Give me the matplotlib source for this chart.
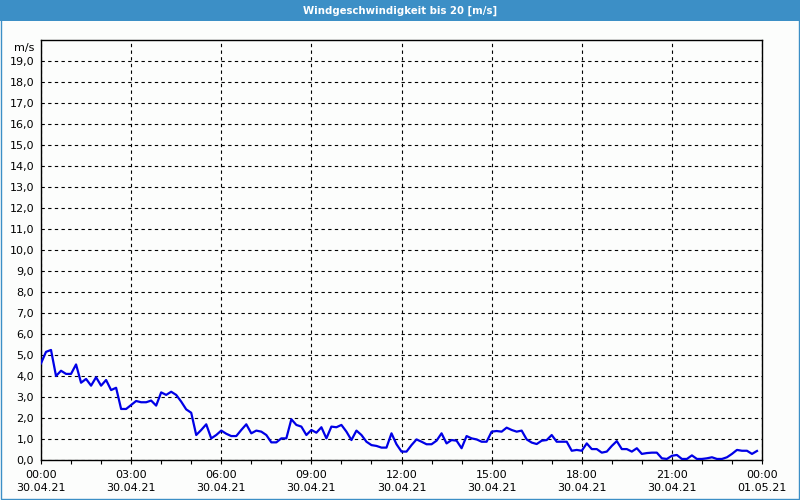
import matplotlib
matplotlib.use("Agg")
import matplotlib.pyplot as plt
import matplotlib.dates as mdates
from matplotlib.patches import Rectangle
from matplotlib.ticker import MultipleLocator, FuncFormatter
import pandas as pd

title = "Windgeschwindigkeit bis 20 [m/s]"
unit = "m/s"
start = "2021-04-30 00:00"
end = "2021-05-01 00:00"

# wind speed in m/s, one value every 10 minutes
speed = [
    4.60, 5.15, 5.24, 4.00, 4.25, 4.10, 4.10, 4.55, 3.68, 3.86, 3.54, 3.94,
    3.54, 3.81, 3.33, 3.44, 2.43, 2.43, 2.62, 2.81, 2.75, 2.75, 2.83, 2.59,
    3.22, 3.10, 3.25, 3.10, 2.78, 2.41, 2.25, 1.19, 1.43, 1.70, 1.03, 1.19,
    1.40, 1.25, 1.14, 1.14, 1.43, 1.70, 1.27, 1.40, 1.35, 1.19, 0.84, 0.84,
    1.03, 1.03, 1.94, 1.67, 1.59, 1.19, 1.43, 1.30, 1.56, 1.03, 1.59, 1.56,
    1.67, 1.35, 0.95, 1.40, 1.19, 0.87, 0.71, 0.67, 0.59, 0.59, 1.27, 0.75,
    0.40, 0.40, 0.71, 0.98, 0.87, 0.75, 0.75, 0.92, 1.27, 0.79, 0.95, 0.92,
    0.56, 1.14, 1.03, 0.98, 0.87, 0.87, 1.35, 1.38, 1.35, 1.54, 1.43, 1.35,
    1.40, 0.98, 0.83, 0.76, 0.92, 0.95, 1.19, 0.87, 0.87, 0.87, 0.44, 0.48,
    0.44, 0.79, 0.52, 0.52, 0.35, 0.40, 0.67, 0.90, 0.52, 0.52, 0.40, 0.56,
    0.29, 0.33, 0.35, 0.35, 0.08, 0.05, 0.20, 0.24, 0.05, 0.05, 0.22, 0.05,
    0.05, 0.08, 0.13, 0.05, 0.05, 0.13, 0.29, 0.48, 0.44, 0.44, 0.29, 0.43,
]

times = pd.date_range(start, periods=len(speed), freq="10min")

bar_blue = "#3c8fc6"
bg = "#fcfdfc"

fig = plt.figure(figsize=(8, 5), dpi=100, facecolor=bg)

# title bar and thin frame round the picture
fig.patches.append(Rectangle((0, 479 / 500), 1, 21 / 500, transform=fig.transFigure,
                             facecolor=bar_blue, edgecolor="none", zorder=0))
fig.patches.append(Rectangle((0.001, 0.002), 0.998, 0.997, transform=fig.transFigure,
                             facecolor="none", edgecolor=bar_blue, linewidth=1.0, zorder=0))
fig.text(0.5, 489.5 / 500, title, color="white", fontsize=7.3, fontweight="bold",
         ha="center", va="center", family="DejaVu Sans")

ax = fig.add_axes([41 / 800, 40 / 500, 721 / 800, 420 / 500])
ax.set_facecolor(bg)
ax.plot(times, speed, color="#0000e6", linewidth=1.6, zorder=3)

ax.set_xlim(pd.Timestamp(start), pd.Timestamp(end))
ax.set_ylim(0, 20)

ax.xaxis.set_major_locator(mdates.HourLocator(byhour=range(0, 24, 3)))
ax.xaxis.set_minor_locator(mdates.HourLocator())
ax.xaxis.set_major_formatter(mdates.DateFormatter("%H:%M\n%d.%m.%y"))
ax.yaxis.set_major_locator(MultipleLocator(1))
ax.yaxis.set_major_formatter(FuncFormatter(lambda v, p: f"{v:.1f}".replace(".", ",")))

ax.grid(True, which="major", color="black", linestyle=(0, (3, 3)), linewidth=0.8)
ax.tick_params(axis="x", which="both", length=3, width=0.8, direction="out",
               labelsize=8, pad=4)
ax.tick_params(axis="y", length=0, labelsize=8, pad=5)
for lbl in ax.get_xticklabels():
    lbl.set_linespacing(1.45)

# no 20,0 label, the reference shows the unit there instead
ax.set_yticks(range(0, 20))
ax.annotate(unit, xy=(0, 1), xycoords="axes fraction", xytext=(-5, -6),
            textcoords="offset points", ha="right", va="center", fontsize=8)

for s in ax.spines.values():
    s.set_color("black")
    s.set_linewidth(1.0)

fig.savefig("out.png", dpi=100, facecolor=bg)
